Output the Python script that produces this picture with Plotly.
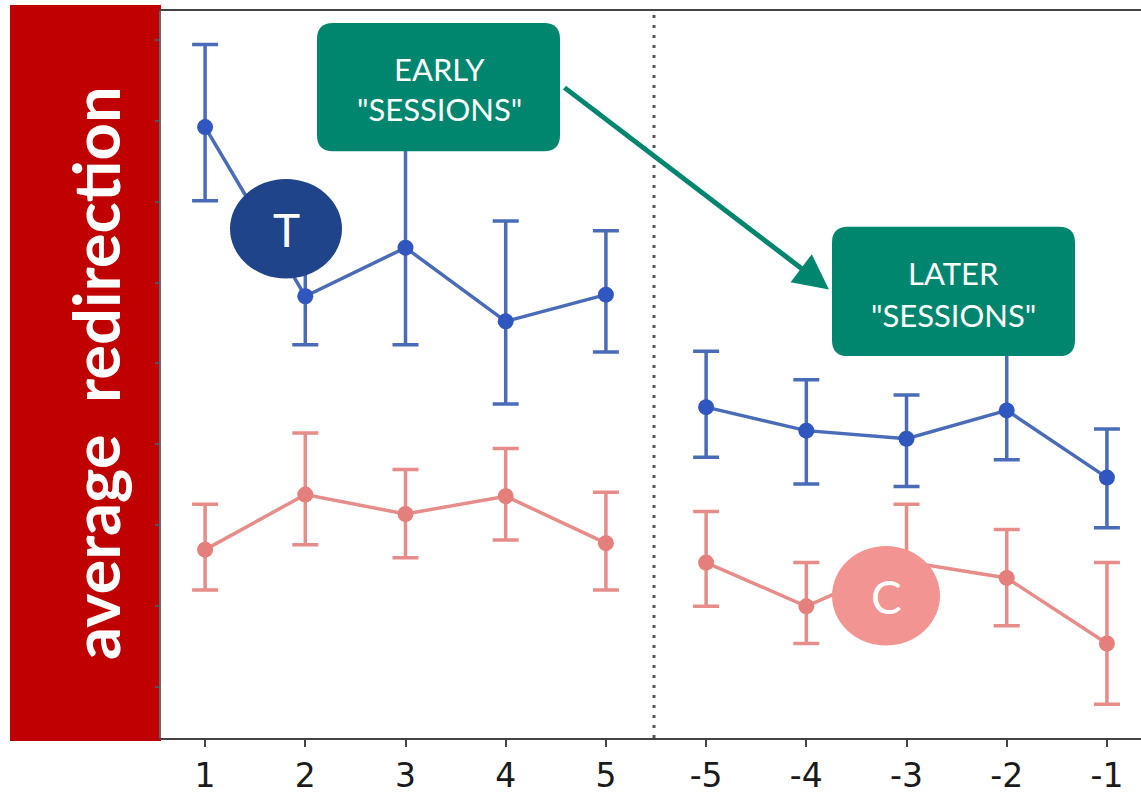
import plotly.graph_objects as go

# ---------------- data ----------------
sessions = ["1", "2", "3", "4", "5", "-5", "-4", "-3", "-2", "-1"]

t_mean  = [6.92, 4.83, 5.43, 4.52, 4.85, 3.46, 3.17, 3.07, 3.42, 2.59]
t_upper = [7.94, 5.43, 6.65, 5.76, 5.64, 4.15, 3.80, 3.61, 4.16, 3.19]
t_lower = [6.01, 4.23, 4.23, 3.50, 4.14, 2.84, 2.51, 2.48, 2.81, 1.97]

c_mean  = [1.70, 2.38, 2.14, 2.36, 1.78, 1.54, 1.00, 1.55, 1.35, 0.54]
c_upper = [2.26, 3.14, 2.69, 2.95, 2.41, 2.17, 1.54, 2.26, 1.95, 1.54]
c_lower = [1.20, 1.76, 1.60, 1.82, 1.20, 1.00, 0.54, 0.84, 0.76, -0.21]

y_ticks = [0, 1, 2, 3, 4, 5, 6, 7, 8]

# ---------------- layout helpers (pixel -> paper) ----------------
W, H = 1141, 795
L, R, T, B = 161, 1141, 11, 742


def px(x):
    return (x - L) / (R - L)


def py(y):
    return (B - y) / (B - T)


def rounded_rect(x0, y0, x1, y1, r):
    pts = [
        ("M", [(x0 + r, y0)]),
        ("L", [(x1 - r, y0)]),
        ("Q", [(x1, y0), (x1, y0 + r)]),
        ("L", [(x1, y1 - r)]),
        ("Q", [(x1, y1), (x1 - r, y1)]),
        ("L", [(x0 + r, y1)]),
        ("Q", [(x0, y1), (x0, y1 - r)]),
        ("L", [(x0, y0 + r)]),
        ("Q", [(x0, y0), (x0 + r, y0)]),
    ]
    s = ""
    for cmd, ps in pts:
        s += cmd + " " + " ".join(f"{px(a):.5f},{py(b):.5f}" for a, b in ps) + " "
    return s + "Z"


xs = list(range(len(sessions)))

BLUE_LINE = "#4a6cb8"
BLUE_MARK = "#3056c0"
RED_LINE = "#e68c89"
RED_MARK = "#e47f7c"
TEAL = "#00866f"

fig = go.Figure()


def add_series(mean, upper, lower, lc, mc, sl):
    fig.add_trace(go.Scatter(
        x=xs[sl], y=mean[sl], mode="lines+markers",
        line=dict(color=lc, width=3.5),
        marker=dict(color=mc, size=16),
        error_y=dict(type="data", symmetric=False,
                     array=[u - m for u, m in zip(upper[sl], mean[sl])],
                     arrayminus=[m - l for m, l in zip(mean[sl], lower[sl])],
                     color=lc, thickness=3.5, width=13),
        showlegend=False,
    ))


for sl in (slice(0, 5), slice(5, 10)):
    add_series(t_mean, t_upper, t_lower, BLUE_LINE, BLUE_MARK, sl)
    add_series(c_mean, c_upper, c_lower, RED_LINE, RED_MARK, sl)

shapes = []
# red label box on the left
shapes.append(dict(type="rect", xref="paper", yref="paper",
                   x0=px(10), x1=px(161), y0=py(745), y1=py(5),
                   fillcolor="#c00000", line=dict(width=0), layer="below"))
# dotted separator
shapes.append(dict(type="line", xref="x", yref="paper", x0=4.48, x1=4.48, y0=0, y1=1,
                   line=dict(color="#555555", width=3, dash="3px,7px")))
# T and C circles
shapes.append(dict(type="circle", xref="paper", yref="paper",
                   x0=px(230), x1=px(342), y0=py(280), y1=py(180),
                   fillcolor="#1f4489", line=dict(width=0)))
shapes.append(dict(type="circle", xref="paper", yref="paper",
                   x0=px(832), x1=px(940), y0=py(649), y1=py(549),
                   fillcolor="#f29592", line=dict(width=0)))
# session boxes
shapes.append(dict(type="path", xref="paper", yref="paper",
                   path=rounded_rect(317, 23, 560, 152, 16),
                   fillcolor=TEAL, line=dict(width=0)))
shapes.append(dict(type="path", xref="paper", yref="paper",
                   path=rounded_rect(832, 228, 1075, 358, 16),
                   fillcolor=TEAL, line=dict(width=0)))

BOX_FONT = dict(family="Lato", size=31, color="white")
annotations = [
    dict(xref="paper", yref="paper", x=px(95), y=py(375), text="<b>average  redirection</b>",
         textangle=-90, showarrow=False,
         font=dict(family="Lato", size=65, color="white"), xanchor="center", yanchor="middle"),
    dict(xref="paper", yref="paper", x=px(286), y=py(231), text="T", showarrow=False,
         font=dict(family="Lato", size=46, color="white"), xanchor="center", yanchor="middle"),
    dict(xref="paper", yref="paper", x=px(886), y=py(600), text="C", showarrow=False,
         font=dict(family="Lato", size=46, color="white"), xanchor="center", yanchor="middle"),
    dict(xref="paper", yref="paper", x=px(439), y=py(69), text="EARLY", showarrow=False,
         font=BOX_FONT, xanchor="center", yanchor="middle"),
    dict(xref="paper", yref="paper", x=px(439), y=py(110), text="\"SESSIONS\"", showarrow=False,
         font=BOX_FONT, xanchor="center", yanchor="middle"),
    dict(xref="paper", yref="paper", x=px(953), y=py(274), text="LATER", showarrow=False,
         font=BOX_FONT, xanchor="center", yanchor="middle"),
    dict(xref="paper", yref="paper", x=px(953), y=py(317), text="\"SESSIONS\"", showarrow=False,
         font=BOX_FONT, xanchor="center", yanchor="middle"),
    # arrow from EARLY box to LATER box
    dict(xref="paper", yref="paper", x=px(829), y=py(291), ax=563 - 829, ay=88 - 291,
         axref="pixel", ayref="pixel", text="", showarrow=True,
         arrowhead=2, arrowsize=1.4, arrowwidth=5, arrowcolor=TEAL, standoff=0, startstandoff=0),
]

fig.update_layout(
    width=W, height=H,
    margin=dict(l=L, r=W - R, t=T, b=H - B, pad=0),
    paper_bgcolor="white", plot_bgcolor="white",
    shapes=shapes, annotations=annotations,
    xaxis=dict(range=[-0.44, 9.34], tickmode="array", tickvals=xs, ticktext=sessions,
               showgrid=False, zeroline=False, showline=True, mirror=True,
               linecolor="#444444", linewidth=2, ticks="outside", ticklen=7, tickwidth=2,
               tickcolor="#444444",
               tickfont=dict(family="DejaVu Sans", size=33, color="#1a1a1a")),
    yaxis=dict(range=[-0.627, 8.354], tickmode="array", tickvals=y_ticks, showticklabels=False,
               showgrid=False, zeroline=False, showline=True, linecolor="#666666", linewidth=2,
               ticks="outside", ticklen=4, tickwidth=2, tickcolor="#555555"),
)

fig.write_html("out.html", config={"displayModeBar": False},
               post_script="document.body.style.margin='0';document.body.style.overflow='hidden';")
